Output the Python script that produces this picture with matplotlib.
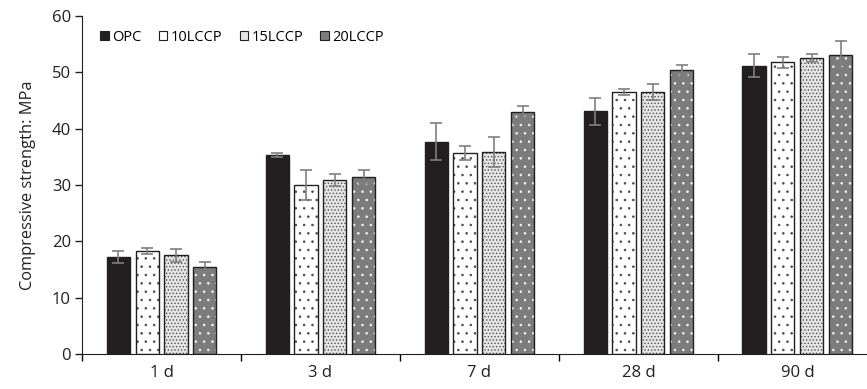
import matplotlib.pyplot as plt
import numpy as np

plt.rcParams['font.family'] = ['Open Sans', 'DejaVu Sans']
plt.rcParams['hatch.linewidth'] = 0.6

ages = ['1 d', '3 d', '7 d', '28 d', '90 d']
mixes = ['OPC', '10LCCP', '15LCCP', '20LCCP']

opc = [17.2, 35.3, 37.7, 43.1, 51.2]
lccp10 = [18.3, 30.0, 35.7, 46.5, 51.8]
lccp15 = [17.5, 30.9, 35.9, 46.5, 52.6]
lccp20 = [15.4, 31.5, 43.0, 50.4, 53.1]

opc_err = [1.0, 0.35, 3.3, 2.4, 2.1]
lccp10_err = [0.6, 2.65, 1.3, 0.5, 1.0]
lccp15_err = [1.2, 1.0, 2.7, 1.5, 0.7]
lccp20_err = [0.9, 1.2, 1.0, 0.9, 2.4]

values = [opc, lccp10, lccp15, lccp20]
errors = [opc_err, lccp10_err, lccp15_err, lccp20_err]

# fill, hatch, hatch colour per mix
styles = [
    ('#231f20', None, '#231f20'),
    ('white', '..', '#4a4a4a'),
    ('#e4e4e4', '.....', '#555555'),
    ('#7c7c7c', '..', '#f4f4f4'),
]

fig = plt.figure(figsize=(8.67, 3.89), dpi=100)
ax = fig.add_axes([0.0946, 0.09, 0.904, 0.869])

x = np.arange(len(ages))
pitch = 0.182
width = 0.145
handles = []
for i, (vals, errs, (fc, hatch, hc)) in enumerate(zip(values, errors, styles)):
    pos = x + (i - 1.5) * pitch
    # hatched fill first, then a black outline on top
    ax.bar(pos, vals, width, color=fc, hatch=hatch, edgecolor=hc, linewidth=0, zorder=2)
    ax.bar(pos, vals, width, fill=False, edgecolor='#231f20', linewidth=1.0, zorder=3)
    ax.errorbar(pos, vals, yerr=errs, fmt='none', ecolor='#7f7f7f',
                elinewidth=1.2, capsize=4, capthick=1.2, zorder=4)
    handles.append(plt.Rectangle((0, 0), 1, 1, facecolor=fc,
                                 edgecolor='#231f20', linewidth=0.8))

ax.set_xlim(-0.5, 4.43)
ax.set_ylim(0, 60)
ax.set_yticks(range(0, 61, 10))
ax.set_xticks(np.arange(-0.5, 4.0, 1.0))
ax.set_xticklabels([])
ax.set_xticks(x, minor=True)
ax.set_xticklabels(ages, minor=True)
ax.tick_params(axis='x', which='major', length=5, width=1, direction='out')
ax.tick_params(axis='x', which='minor', length=0, pad=8, labelsize=12, colors='#231f20')
ax.tick_params(axis='y', length=5, width=1, direction='out', labelsize=12, colors='#231f20', pad=3)

for side in ['top', 'right']:
    ax.spines[side].set_visible(False)
for side in ['left', 'bottom']:
    ax.spines[side].set_color('#231f20')

ax.set_ylabel('Compressive strength: MPa', fontsize=11.8, color='#231f20', labelpad=11)

ax.legend(handles, mixes, loc='upper left', bbox_to_anchor=(0.012, 0.985), ncol=4,
          frameon=False, fontsize=10.5, handlelength=0.6, handleheight=0.6,
          handletextpad=0.2, columnspacing=1.2, borderaxespad=0.2)

fig.savefig('out.png', dpi=100)
